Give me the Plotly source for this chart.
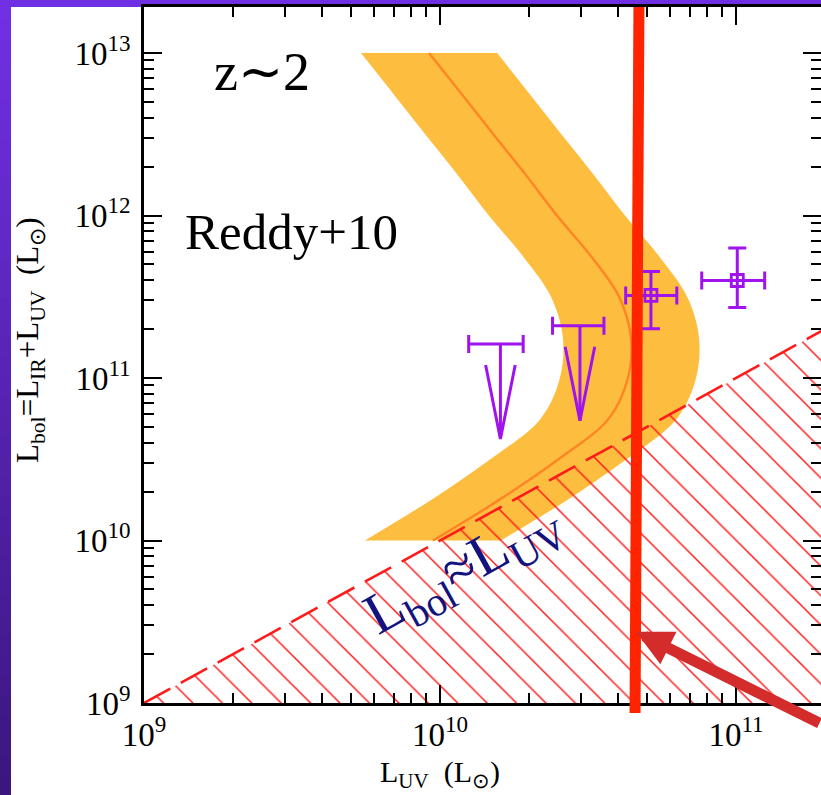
import math
import plotly.graph_objects as go

# Reddy+10 relation at z~2: central log L_UV for each log L_bol (dex)
rel_log_lbol = [10.0, 10.25, 10.5, 10.75, 11.0, 11.25, 11.5, 11.75, 12.0, 12.25, 12.5, 12.75, 13.0]
rel_log_luv = [9.976, 10.20, 10.40, 10.57, 10.635, 10.645, 10.605, 10.51, 10.395, 10.29, 10.18, 10.072, 9.963]
rel_halfwidth_dex = 0.23

# L_bol = L_UV boundary
equal_line = [1e9, 1e12]

# detections (L_UV, L_bol) with their error ranges
det_luv = [5.16e10, 1.01e11]
det_luv_lo = [4.24e10, 7.66e10]
det_luv_hi = [6.31e10, 1.25e11]
det_lbol = [3.22e11, 3.98e11]
det_lbol_lo = [2.01e11, 2.72e11]
det_lbol_hi = [4.53e11, 6.31e11]

# upper limits on L_bol
lim_luv = [1.60e10, 2.97e10]
lim_luv_lo = [1.25e10, 2.40e10]
lim_luv_hi = [1.91e10, 3.58e10]
lim_lbol = [1.62e11, 2.10e11]

# characteristic UV luminosity marked by the vertical bar (top, bottom)
lstar_uv = [4.70e10, 4.56e10]
arrow_tip = (4.59e10, 2.74e9)

x_tick_vals = [1e9, 1e10, 1e11]
x_tick_text = ["10<sup>9</sup>", "10<sup>10</sup>", "10<sup>11</sup>"]
y_tick_vals = [1e9, 1e10, 1e11, 1e12, 1e13]
y_tick_text = ["10<sup>9</sup>", "10<sup>10</sup>", "10<sup>11</sup>", "10<sup>12</sup>", "10<sup>13</sup>"]
minor_vals = [k * 10.0 ** n for n in range(9, 14) for k in range(2, 10)]

ORANGE = "#FDBD3F"
ORANGE_LINE = "#FF8425"
RED = "#FF1A1A"
BAR_RED = "#FF2400"
ARROW_RED = "#D42B2B"
PURPLE = "#A012EE"
NAVY = "#13137F"
SERIF = "Liberation Serif, Times New Roman, serif"

W, H = 821, 795
ML, MT, MB = 144, 7, 92
PW, PH = W - ML, H - MT - MB
X_RANGE = [9, 9 + PW / 296.0]
Y_RANGE = [9, 9 + PH / 162.5]

fig = go.Figure()

# shaded relation band (edges shifted by the half-width in log L_UV)
y_band = [10 ** v for v in rel_log_lbol]
x_left = [10 ** (c - rel_halfwidth_dex) for c in rel_log_luv]
x_right = [10 ** (c + rel_halfwidth_dex) for c in rel_log_luv]
fig.add_trace(go.Scatter(x=x_left, y=y_band, mode="lines",
                         line=dict(width=0, shape="spline", color=ORANGE),
                         hoverinfo="skip", showlegend=False))
fig.add_trace(go.Scatter(x=x_right, y=y_band, mode="lines",
                         line=dict(width=0, shape="spline", color=ORANGE),
                         fill="tonextx", fillcolor=ORANGE,
                         hoverinfo="skip", showlegend=False))
fig.add_trace(go.Scatter(x=[10 ** c for c in rel_log_luv], y=y_band, mode="lines",
                         line=dict(width=2.4, shape="spline", color=ORANGE_LINE),
                         hoverinfo="skip", showlegend=False))

# hatched zone below L_bol = L_UV
lo, hi = equal_line
fig.add_trace(go.Scatter(x=[lo, hi, hi, lo], y=[lo, hi, lo, lo], mode="lines",
                         fill="toself", fillcolor="rgba(0,0,0,0)",
                         line=dict(width=0),
                         fillpattern=dict(shape="\\", fgcolor=RED, bgcolor="rgba(0,0,0,0)",
                                          size=20.8, solidity=0.07, fillmode="replace"),
                         hoverinfo="skip", showlegend=False))
fig.add_trace(go.Scatter(x=equal_line, y=equal_line, mode="lines",
                         line=dict(color=RED, width=2.6, dash="30px,12px"),
                         hoverinfo="skip", showlegend=False))

# upper-limit arrows
arrow_len_dex, wing_drop_dex, wing_half_dex = 0.585, 0.13, 0.05
ax_x, ax_y = [], []
for xv, yv in zip(lim_luv, lim_lbol):
    tip = yv / 10 ** arrow_len_dex
    wing = yv / 10 ** wing_drop_dex
    ax_x += [xv, xv, None, xv / 10 ** wing_half_dex, xv, xv * 10 ** wing_half_dex, None]
    ax_y += [yv, tip, None, wing, tip, wing, None]
fig.add_trace(go.Scatter(x=ax_x, y=ax_y, mode="lines",
                         line=dict(color=PURPLE, width=3),
                         hoverinfo="skip", showlegend=False))
fig.add_trace(go.Scatter(
    x=lim_luv, y=lim_lbol, mode="markers",
    marker=dict(size=1, color="rgba(0,0,0,0)"),
    error_x=dict(type="data", symmetric=False,
                 array=[h - v for h, v in zip(lim_luv_hi, lim_luv)],
                 arrayminus=[v - l for v, l in zip(lim_luv, lim_luv_lo)],
                 color=PURPLE, thickness=3, width=9),
    showlegend=False))

# detections
fig.add_trace(go.Scatter(
    x=det_luv, y=det_lbol, mode="markers",
    marker=dict(symbol="square-open", size=12, color=PURPLE, line=dict(width=2.8, color=PURPLE)),
    error_x=dict(type="data", symmetric=False,
                 array=[h - v for h, v in zip(det_luv_hi, det_luv)],
                 arrayminus=[v - l for v, l in zip(det_luv, det_luv_lo)],
                 color=PURPLE, thickness=3, width=9),
    error_y=dict(type="data", symmetric=False,
                 array=[h - v for h, v in zip(det_lbol_hi, det_lbol)],
                 arrayminus=[v - l for v, l in zip(det_lbol, det_lbol_lo)],
                 color=PURPLE, thickness=3, width=9),
    showlegend=False))

# carrier for the right-hand tick column
fig.add_trace(go.Scatter(x=[1e10], y=[1e10], yaxis="y2", mode="markers",
                         marker=dict(opacity=0), hoverinfo="skip", showlegend=False))


# slide background: purple frame with a white panel
def px_x(p):
    return (p - ML) / PW


def px_y(p):
    return (H - MB - p) / PH


shapes = [dict(type="rect", xref="paper", yref="paper", layer="below",
               x0=px_x(11), x1=px_x(W), y0=px_y(H), y1=px_y(MT),
               fillcolor="white", line=dict(width=0))]
n_bands = 40
top_c, bot_c = (114, 48, 228), (58, 22, 126)
for i in range(n_bands):
    t = (i + 0.5) / n_bands
    c = tuple(int(round(a + (b - a) * t)) for a, b in zip(top_c, bot_c))
    shapes.append(dict(type="rect", xref="paper", yref="paper", layer="below",
                       x0=px_x(0), x1=px_x(11),
                       y0=px_y(H * (i + 1) / n_bands + 1), y1=px_y(H * i / n_bands),
                       fillcolor="rgb(%d,%d,%d)" % c, line=dict(width=0)))
# vertical marker at the characteristic UV luminosity
shapes.append(dict(type="line", xref="x", yref="paper", layer="above",
                   x0=lstar_uv[0], y0=1.0, x1=lstar_uv[1], y1=px_y(713),
                   line=dict(color=BAR_RED, width=11)))


def label(px, py, text, size, color="black", angle=0):
    return dict(xref="paper", yref="paper", x=px_x(px), y=px_y(py), text=text,
                showarrow=False, xanchor="center", yanchor="middle", textangle=angle,
                font=dict(family=SERIF, size=size, color=color))


annotations = [
    label(262, 72, "z∼2", 54),
    label(291, 232, "Reddy+10", 51),
    label(463, 570, "L<sub>bol</sub>≈L<sub>UV</sub>", 58, NAVY, -29),
    label(440, 774, "L<sub>UV</sub>\u00a0\u00a0(L<sub>⊙</sub>)", 30),
    label(30, 340, "L<sub>bol</sub>=L<sub>IR</sub>+L<sub>UV</sub>\u00a0\u00a0(L<sub>⊙</sub>)", 31,
          angle=-90),
    dict(xref="x", yref="y", x=math.log10(arrow_tip[0]), y=math.log10(arrow_tip[1]),
         text="", showarrow=True, axref="pixel", ayref="pixel", ax=230, ay=92,
         arrowhead=2, arrowwidth=11, arrowsize=0.66, arrowcolor=ARROW_RED),
]

axis_common = dict(type="log", showgrid=False, zeroline=False,
                   ticks="inside", ticklen=18, tickwidth=2, tickcolor="black",
                   minor=dict(ticks="inside", ticklen=10, tickwidth=2, tickcolor="black",
                              tickvals=minor_vals, showgrid=False),
                   tickfont=dict(family=SERIF, size=33, color="black"))

fig.update_layout(
    width=W, height=H,
    margin=dict(l=ML, r=0, t=MT, b=MB, pad=0),
    paper_bgcolor="rgb(110,48,226)", plot_bgcolor="white",
    shapes=shapes, annotations=annotations,
    xaxis=dict(axis_common, range=X_RANGE, tickvals=x_tick_vals, ticktext=x_tick_text,
               showline=True, linewidth=2.5, linecolor="black", mirror="ticks",
               ticklabelstandoff=1),
    yaxis=dict(axis_common, range=Y_RANGE, tickvals=y_tick_vals, ticktext=y_tick_text,
               showline=True, linewidth=2.5, linecolor="black", mirror=False,
               ticklabelstandoff=4),
    yaxis2=dict(axis_common, range=Y_RANGE, tickvals=y_tick_vals, overlaying="y", side="right",
                showticklabels=False, showline=False),
    showlegend=False,
)

fig.write_html("out.html")
